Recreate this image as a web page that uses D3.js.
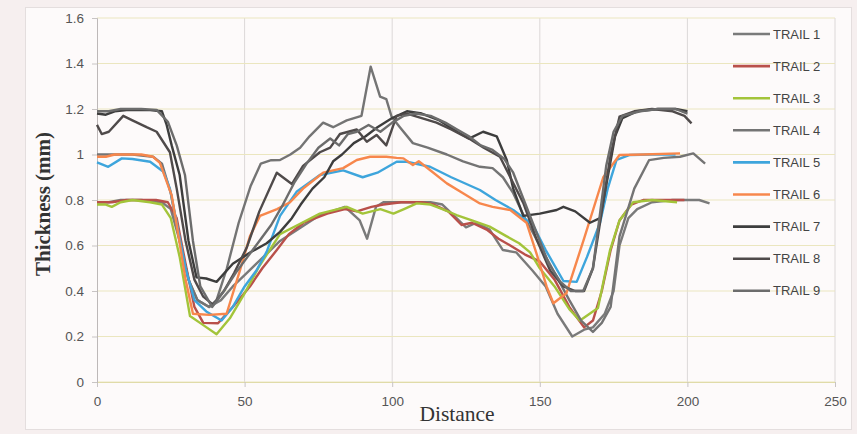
<!DOCTYPE html>
<html>

<head>
  <meta charset="utf-8">
  <script src="https://d3js.org/d3.v7.min.js"></script>
  <style>
    body {
      margin: 0;
      background: #f6efef;
    }

    .tick text {
      font-family: "Liberation Sans", Arial, sans-serif;
      font-size: 13.5px;
      fill: #555;
    }

    .legend text {
      font-family: "Liberation Sans", Arial, sans-serif;
      font-size: 13px;
      fill: #444;
    }

    .trail {
      fill: none;
      stroke-width: 2.4;
      stroke-linejoin: round;
    }
  </style>
</head>

<body>
  <script type="text/javascript">
    // [distance, thickness (mm)]
    var trail1 = [[0,0.79],[4,0.79],[8,0.80],[15,0.80],[22,0.79],[25,0.76],[28,0.62],[31,0.45],[34,0.36],[38,0.33],[42,0.36],[46,0.42],[50,0.47],[54,0.52],[58,0.57],[62,0.62],[68,0.67],[75,0.73],[84,0.77],[89,0.71],[91.5,0.63],[94.5,0.77],[97,0.79],[107,0.79],[113,0.79],[117,0.78],[121,0.73],[125,0.68],[128.5,0.70],[133,0.67],[137.5,0.58],[142,0.57],[147.5,0.49],[152,0.42],[156,0.30],[161,0.20],[165,0.23],[168,0.24],[172,0.30],[175,0.40],[177,0.60],[180,0.72],[183,0.76],[188,0.79],[195,0.80],[200,0.80],[204,0.80],[207.5,0.785]];
    var trail2 = [[0,0.79],[5,0.79],[10,0.80],[20,0.80],[24,0.79],[27,0.72],[30,0.52],[33,0.33],[36,0.26],[41,0.258],[46,0.33],[51.8,0.42],[56,0.50],[60.9,0.58],[65,0.65],[70,0.70],[78,0.74],[84,0.76],[88,0.75],[93,0.77],[97,0.78],[103,0.79],[110,0.79],[114,0.78],[119,0.75],[123.5,0.69],[127,0.70],[132,0.67],[136,0.63],[140,0.60],[145,0.56],[150,0.53],[155,0.45],[160,0.33],[165,0.24],[168,0.27],[171,0.40],[174,0.58],[177,0.71],[181,0.78],[185,0.80],[192,0.80],[199,0.80]];
    var trail3 = [[0,0.78],[3,0.78],[5,0.77],[8,0.79],[12,0.80],[18,0.79],[22,0.78],[25,0.72],[28,0.55],[31.5,0.29],[36,0.25],[40.5,0.21],[45,0.28],[50,0.39],[55,0.51],[62,0.65],[68,0.69],[75.5,0.74],[84.6,0.77],[90,0.74],[96,0.76],[100.4,0.74],[104,0.76],[108.3,0.785],[113,0.78],[117,0.76],[121.8,0.734],[127,0.71],[133,0.683],[138.8,0.64],[143,0.61],[146.7,0.57],[150,0.50],[155,0.42],[160,0.32],[163.6,0.27],[169.7,0.325],[173.8,0.58],[177,0.71],[181.6,0.79],[188,0.80],[196.5,0.79]];
    var trail4 = [[0,1.0],[5,1.0],[12,1.0],[19,0.99],[22,0.96],[25,0.83],[28,0.62],[31,0.45],[34,0.36],[38,0.33],[40.5,0.36],[44,0.50],[48,0.70],[52,0.86],[55.5,0.96],[59,0.975],[62,0.976],[65.5,1.0],[68.8,1.03],[72,1.08],[76.6,1.14],[80,1.12],[84.6,1.15],[89.6,1.17],[92.7,1.386],[95.9,1.254],[98,1.243],[99.8,1.166],[102.6,1.12],[107,1.05],[112,1.03],[118.5,1.0],[124,0.97],[129.7,0.946],[134,0.94],[137.5,0.90],[141,0.83],[145,0.72],[150,0.60],[155,0.48],[160,0.36],[164,0.27],[168,0.22],[171,0.26],[174,0.33],[177,0.64],[182,0.85],[187,0.975],[192,0.985],[197.5,0.99],[202,1.005],[206,0.96]];
    var trail5 = [[0,0.965],[3.8,0.946],[8.4,0.983],[12,0.98],[18,0.968],[22.5,0.924],[24.7,0.85],[27,0.70],[30,0.50],[33,0.36],[37,0.31],[42.2,0.27],[46,0.33],[50,0.42],[54,0.49],[57.5,0.573],[62,0.73],[67.6,0.836],[75.5,0.91],[83.4,0.93],[90,0.90],[95,0.92],[101.5,0.968],[104.9,0.968],[112.8,0.946],[120,0.90],[129.7,0.844],[135,0.80],[141,0.756],[147.7,0.69],[152,0.58],[158,0.444],[162.5,0.44],[166,0.55],[170.4,0.70],[173,0.85],[176,0.976],[180.5,0.998],[188,1.0],[196,1.0]];
    var trail6 = [[0,0.99],[3,0.99],[6,1.0],[10,1.0],[15,1.0],[19,0.99],[21.3,0.963],[25.3,0.82],[27,0.69],[30,0.45],[32.5,0.30],[38,0.295],[43.9,0.30],[48.4,0.49],[51.8,0.64],[55.2,0.73],[61,0.76],[65.4,0.79],[69.8,0.85],[76.6,0.92],[83.4,0.94],[88,0.976],[92.5,0.99],[98,0.99],[101.5,0.985],[103.8,0.983],[107,0.954],[109,0.97],[113,0.93],[118.5,0.873],[124,0.83],[129.7,0.785],[134,0.77],[140,0.756],[145.5,0.70],[149,0.56],[152.3,0.42],[154.6,0.346],[159,0.39],[165,0.63],[171.5,0.90],[177,0.998],[185,1.0],[197.5,1.005]];
    var trail7 = [[0,1.18],[3,1.175],[6,1.19],[10,1.195],[18,1.195],[22,1.19],[23.6,1.13],[25.3,1.04],[28,0.91],[31,0.62],[33.7,0.46],[37,0.455],[40.5,0.44],[46,0.52],[52,0.57],[57.5,0.61],[62,0.66],[66,0.72],[69,0.78],[73,0.85],[77,0.90],[80,0.97],[83,1.00],[87,1.05],[91,1.08],[95,1.12],[100,1.16],[105,1.19],[110,1.18],[116,1.15],[122,1.10],[126,1.07],[130.8,1.10],[135.4,1.08],[138.8,0.976],[141,0.85],[144.4,0.73],[150,0.74],[155.7,0.756],[158,0.77],[162,0.75],[167,0.70],[170.4,0.72],[173,0.90],[175.5,1.08],[178,1.16],[183,1.19],[190,1.20],[196,1.20],[200,1.19]];
    var trail8 = [[0,1.13],[1.6,1.09],[4,1.10],[8.9,1.17],[12,1.15],[16.8,1.12],[20.2,1.10],[24.7,1.01],[27,0.85],[30,0.62],[33,0.45],[36,0.375],[39.3,0.34],[43,0.40],[46.5,0.48],[50.7,0.59],[55,0.75],[60.9,0.92],[66,0.87],[69.8,0.95],[75.5,1.01],[79,1.03],[82.3,1.09],[88,1.11],[91.4,1.056],[94.7,1.086],[98,1.04],[101.5,1.17],[105,1.18],[110,1.16],[115,1.14],[120,1.11],[126,1.07],[131,1.03],[136.5,0.99],[140,0.90],[144.4,0.787],[149,0.624],[153.5,0.49],[158,0.42],[162,0.40],[165,0.40],[168,0.50],[171,0.75],[174,1.0],[177,1.166],[182,1.19],[188,1.2],[195,1.19],[199,1.17],[201.4,1.137]];
    var trail9 = [[0,1.19],[4,1.19],[8,1.20],[15,1.20],[20.2,1.196],[24,1.144],[27,1.04],[29.8,0.91],[32.5,0.62],[35,0.42],[39,0.33],[43,0.40],[47,0.48],[51,0.55],[55,0.62],[59,0.69],[63,0.78],[67,0.88],[71,0.96],[75,1.03],[79,1.07],[82,1.04],[85,1.09],[88,1.10],[92,1.13],[96,1.10],[100,1.14],[104,1.17],[108,1.18],[113,1.17],[118,1.14],[122,1.11],[126,1.08],[130,1.04],[134,1.02],[138,0.98],[141,0.92],[144,0.82],[147,0.72],[150,0.62],[153,0.52],[157,0.44],[160.5,0.40],[164.7,0.40],[168,0.50],[170.5,0.75],[172.5,0.95],[175,1.10],[178,1.17],[184,1.19],[190,1.20],[196,1.20],[200,1.18]];

    var trailNames = ["TRAIL 1", "TRAIL 2", "TRAIL 3", "TRAIL 4", "TRAIL 5",
                      "TRAIL 6", "TRAIL 7", "TRAIL 8", "TRAIL 9"];
    var trails = [trail1, trail2, trail3, trail4, trail5, trail6, trail7, trail8, trail9];
    var colors = ["#7a7a7a", "#b9504a", "#a3c43a", "#747474", "#3ea5dc",
                  "#f7874c", "#3d3d3d", "#4f4a4a", "#6c6c6c"];

    var xTicks = [0, 50, 100, 150, 200, 250];
    var yTicks = [0, 0.2, 0.4, 0.6, 0.8, 1, 1.2, 1.4, 1.6];

    function draw() {
      "use strict";
      var width = 857,
        height = 434,
        left = 97,
        right = 835,
        top = 18,
        bottom = 382;

      var svg = d3.select("body")
        .append("svg")
        .attr("width", width)
        .attr("height", height);

      // chart frame
      svg.append("rect")
        .attr("x", 25.5)
        .attr("y", 7.5)
        .attr("width", 826)
        .attr("height", 422)
        .attr("fill", "#fdfafa")
        .attr("stroke", "#e4dede");

      var x = d3.scaleLinear()
        .domain([0, 250])
        .range([left, right]);

      var y = d3.scaleLinear()
        .domain([0, 1.6])
        .range([bottom, top]);

      // gridlines
      svg.append("g")
        .selectAll("line")
        .data(xTicks.slice(1))
        .enter()
        .append("line")
        .attr("x1", function(d) { return x(d); })
        .attr("x2", function(d) { return x(d); })
        .attr("y1", top)
        .attr("y2", bottom)
        .attr("stroke", "#dcd8d8")
        .attr("stroke-width", 1);

      svg.append("g")
        .selectAll("line")
        .data(yTicks)
        .enter()
        .append("line")
        .attr("x1", left)
        .attr("x2", right)
        .attr("y1", function(d) { return y(d); })
        .attr("y2", function(d) { return y(d); })
        .attr("stroke", "#ebe6bf")
        .attr("stroke-width", 1.2);

      var xAxis = d3.axisBottom(x)
        .tickValues(xTicks)
        .tickSize(5)
        .tickPadding(9)
        .tickFormat(d3.format("d"));

      var yAxis = d3.axisLeft(y)
        .tickValues(yTicks)
        .tickSize(5)
        .tickPadding(8)
        .tickFormat(function(d) { return String(+d.toFixed(1)); });

      var gx = svg.append("g")
        .attr("transform", "translate(0," + bottom + ")")
        .call(xAxis);
      gx.select(".domain").attr("stroke", "#e0dba8");
      gx.selectAll(".tick line").attr("stroke", "#c8c4c4");

      var gy = svg.append("g")
        .attr("transform", "translate(" + left + ",0)")
        .call(yAxis);
      gy.select(".domain").attr("stroke", "#bdb8b8");
      gy.selectAll(".tick line").attr("stroke", "#c8c4c4");

      // axis titles
      svg.append("text")
        .attr("transform", "translate(50," + 204 + ") rotate(-90)")
        .style("text-anchor", "middle")
        .style("font-family", "'Liberation Serif', 'Times New Roman', serif")
        .style("font-weight", "bold")
        .style("font-size", "21px")
        .style("fill", "#333")
        .text("Thickness (mm)");

      svg.append("text")
        .attr("x", 457)
        .attr("y", 421)
        .style("text-anchor", "middle")
        .style("font-family", "'Liberation Serif', 'Times New Roman', serif")
        .style("font-size", "21.5px")
        .style("fill", "#333")
        .text("Distance");

      var line = d3.line()
        .x(function(d) { return x(d[0]); })
        .y(function(d) { return y(d[1]); });

      svg.append("g")
        .selectAll("path")
        .data(trails)
        .enter()
        .append("path")
        .attr("class", "trail")
        .attr("stroke", function(d, i) { return colors[i]; })
        .attr("d", line);

      // legend
      var legend = svg.append("g")
        .attr("class", "legend")
        .selectAll("g")
        .data(trailNames)
        .enter()
        .append("g")
        .attr("transform", function(d, i) {
          return "translate(733," + (34 + i * 32.1) + ")";
        });

      legend.append("line")
        .attr("x1", 0)
        .attr("x2", 37)
        .attr("stroke", function(d, i) { return colors[i]; })
        .attr("stroke-width", 2.6);

      legend.append("text")
        .attr("x", 40)
        .attr("dy", "0.35em")
        .text(function(d) { return d; });
    }

    draw();
  </script>
</body>

</html>
